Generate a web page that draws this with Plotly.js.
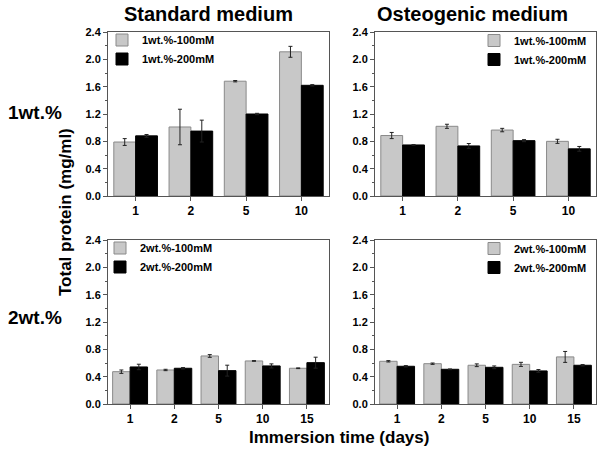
<!DOCTYPE html>
<html>
<head>
<meta charset="utf-8">
<script src="https://cdn.plot.ly/plotly-3.0.1.min.js"></script>
<style>html,body{margin:0;padding:0;background:#fff;}#chart{width:602px;height:450px;}</style>
</head>
<body>
<div id="chart"></div>
<script>
// ---- data ----
var days4 = ['1', '2', '5', '10'];
var days5 = ['1', '2', '5', '10', '15'];

var std1_100 = [0.79, 1.01, 1.68, 2.11];
var std1_100_err = [0.05, 0.26, 0.01, 0.08];
var std1_200 = [0.88, 0.95, 1.20, 1.62];
var std1_200_err = [0.02, 0.16, 0.01, 0.01];

var ost1_100 = [0.885, 1.02, 0.965, 0.80];
var ost1_100_err = [0.045, 0.03, 0.025, 0.03];
var ost1_200 = [0.747, 0.733, 0.81, 0.69];
var ost1_200_err = [0.005, 0.035, 0.015, 0.035];

var std2_100 = [0.473, 0.498, 0.703, 0.63, 0.523];
var std2_100_err = [0.025, 0.01, 0.02, 0.005, 0.005];
var std2_200 = [0.542, 0.523, 0.488, 0.557, 0.605];
var std2_200_err = [0.04, 0.01, 0.08, 0.03, 0.08];

var ost2_100 = [0.625, 0.59, 0.567, 0.58, 0.689];
var ost2_100_err = [0.01, 0.01, 0.02, 0.03, 0.08];
var ost2_200 = [0.552, 0.508, 0.537, 0.484, 0.567];
var ost2_200_err = [0.01, 0.005, 0.02, 0.02, 0.01];

var name1_100 = '1wt.%-100mM', name1_200 = '1wt.%-200mM';
var name2_100 = '2wt.%-100mM', name2_200 = '2wt.%-200mM';

// ---- styles ----
var FONT = 'Liberation Sans, Arial, Helvetica, sans-serif';
var GRAY = '#c8c8c8', GRAYLINE = '#8a8a8a', BLACK = '#000000';

function bar(x, y, err, name, isGray, xa, ya, leg) {
  return {
    type: 'bar', x: x, y: y, name: name,
    xaxis: xa, yaxis: ya, legend: leg,
    marker: {color: isGray ? GRAY : BLACK, line: {color: isGray ? GRAYLINE : BLACK, width: 1}},
    error_y: {type: 'data', array: err, visible: true, color: '#222', thickness: 1, width: 2}
  };
}

var data = [
  bar(days4, std1_100, std1_100_err, name1_100, true, 'x', 'y', 'legend'),
  bar(days4, std1_200, std1_200_err, name1_200, false, 'x', 'y', 'legend'),
  bar(days4, ost1_100, ost1_100_err, name1_100, true, 'x2', 'y2', 'legend2'),
  bar(days4, ost1_200, ost1_200_err, name1_200, false, 'x2', 'y2', 'legend2'),
  bar(days5, std2_100, std2_100_err, name2_100, true, 'x3', 'y3', 'legend3'),
  bar(days5, std2_200, std2_200_err, name2_200, false, 'x3', 'y3', 'legend3'),
  bar(days5, ost2_100, ost2_100_err, name2_100, true, 'x4', 'y4', 'legend4'),
  bar(days5, ost2_200, ost2_200_err, name2_200, false, 'x4', 'y4', 'legend4')
];

function xaxis(domain, anchor) {
  return {
    domain: domain, anchor: anchor, type: 'category',
    showline: true, linecolor: '#555', linewidth: 1, mirror: true,
    ticks: 'outside', ticklen: 4, tickcolor: '#555',
    showgrid: false, zeroline: false, fixedrange: true,
    tickfont: {family: FONT, size: 12, color: '#000', weight: 'bold'}
  };
}
function yaxis(domain, anchor) {
  return {
    domain: domain, anchor: anchor, range: [0, 2.4],
    tick0: 0, dtick: 0.4, tickformat: '.1f',
    showline: true, linecolor: '#555', linewidth: 1, mirror: true,
    ticks: 'outside', ticklen: 4, tickcolor: '#555',
    minor: {dtick: 0.2, ticks: 'outside', ticklen: 2, tickcolor: '#555'},
    showgrid: false, zeroline: false, fixedrange: true,
    tickfont: {family: FONT, size: 11, color: '#000', weight: 'bold'}
  };
}

var XL = [108 / 602, 329 / 602], XR = [375 / 602, 596 / 602];
var YT = [1 - 196 / 450, 1 - 32 / 450], YB = [1 - 404 / 450, 1 - 240 / 450];

function legend(xpx, ypx) {
  return {
    x: xpx / 602, y: 1 - ypx / 450, xanchor: 'left', yanchor: 'top',
    xref: 'paper', yref: 'paper',
    bgcolor: 'rgba(0,0,0,0)', borderwidth: 0,
    font: {family: FONT, size: 11, color: '#000', weight: 'bold'}
  };
}

function ann(text, xpx, ypx, size, angle) {
  return {
    text: text, xref: 'paper', yref: 'paper', x: xpx / 602, y: 1 - ypx / 450,
    xanchor: 'center', yanchor: 'middle', showarrow: false, textangle: angle || 0,
    font: {family: FONT, size: size, color: '#000', weight: 'bold'}
  };
}

var layout = {
  width: 602, height: 450,
  margin: {l: 0, r: 0, t: 0, b: 0},
  paper_bgcolor: '#fff', plot_bgcolor: '#fff',
  barmode: 'group', bargap: 0.21, bargroupgap: 0,
  showlegend: true,
  font: {family: FONT, color: '#000'},
  xaxis: xaxis(XL, 'y'), yaxis: yaxis(YT, 'x'),
  xaxis2: xaxis(XR, 'y2'), yaxis2: yaxis(YT, 'x2'),
  xaxis3: xaxis(XL, 'y3'), yaxis3: yaxis(YB, 'x3'),
  xaxis4: xaxis(XR, 'y4'), yaxis4: yaxis(YB, 'x4'),
  legend: legend(102, 25.5),
  legend2: legend(474, 26),
  legend3: legend(100, 233.5),
  legend4: legend(474, 234),
  annotations: [
    ann('Standard medium', 208, 14, 20),
    ann('Osteogenic medium', 472, 14, 20),
    ann('1wt.%', 34.5, 113, 19),
    ann('2wt.%', 34.5, 317, 19),
    ann('Total protein (mg/ml)', 66, 212, 17, -90),
    ann('Immersion time (days)', 339, 437, 17)
  ]
};

Plotly.newPlot('chart', data, layout, {displayModeBar: false, staticPlot: true});
</script>
</body>
</html>
